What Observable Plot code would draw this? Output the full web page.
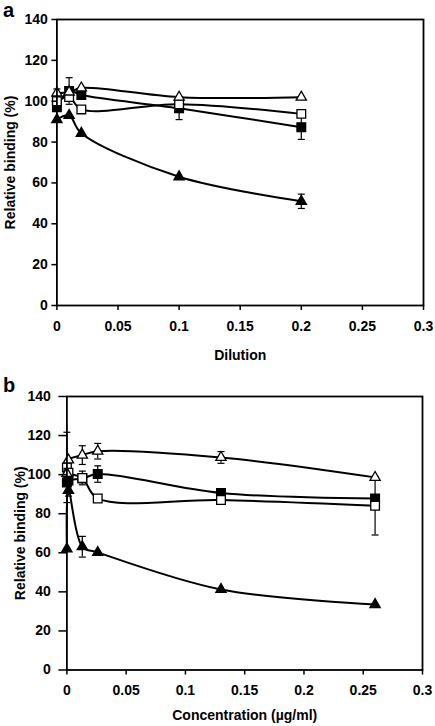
<!DOCTYPE html>
<html><head><meta charset="utf-8">
<script src="https://cdn.jsdelivr.net/npm/d3@7"></script>
<script src="https://cdn.jsdelivr.net/npm/@observablehq/plot@0.6"></script>
<style>
body{margin:0;background:#fff;width:435px;height:726px;position:relative;overflow:hidden;font-family:"Liberation Sans",Arial,sans-serif;}
.panel{position:absolute;left:0}
.tag{position:absolute;font-weight:bold;font-size:20px;line-height:1;z-index:2;color:#000}
</style></head><body>
<div id="pa" class="panel" style="top:0"></div>
<div id="pb" class="panel" style="top:365px"></div>
<div class="tag" style="left:3px;top:0px">a</div>
<div class="tag" style="left:3px;top:375px">b</div>
<script>
// ---- Panel a (Dilution) ----
const xA = [0, 0.01, 0.02, 0.1, 0.2];
const aOpenTri = [104, 104.5, 106.5, 102, 102];
const aOpenSq = [100, 102, 96, 98.5, 93.8];
const aFillSq = [97, 105, 103, 96.5, 87.3];
const aFillTri = [91, 93, 84.3, 63, 51];
const aOpenTriErr = [2, 0, 0, 0, 0];
const aOpenSqErr = [0, 0, 0, 0, 0];
const aFillSqErr = [0, 6.5, 0, 5.5, 6];
const aFillTriErr = [0, 0, 0, 0, 3.5];

// ---- Panel b (Concentration) ----
const xB = [0, 0.0013, 0.013, 0.026, 0.13, 0.26];
const bOpenTri = [100.6, 107.5, 110, 112, 108.8, 98.6];
const bOpenSq = [103.7, 101, 98.3, 87.8, 87, 84.1];
const bFillSq = [96, 97, 98, 100.3, 90.6, 87.8];
const bFillTri = [62, 92, 63.1, 60.2, 41.2, 33.5];
const bOpenTriErr = [0, 0, 4.8, 4, 3, 0];
const bOpenSqErr = [18, 0, 3.5, 0, 0, 15];
const bFillSqErr = [0, 0, 0, 4.2, 1.5, 0];
const bFillTriErr = [0, 3, 5.3, 0, 0, 0];

const xTicks = [0, 0.05, 0.1, 0.15, 0.2, 0.25, 0.3];
const yTicks = [0, 20, 40, 60, 80, 100, 120, 140];
const yLabel = "Relative binding (%)";

const capSymbol = {draw(ctx) { ctx.moveTo(-3.5, 0); ctx.lineTo(3.5, 0); }};

function rows(xs, ys, errs, name) {
  return xs.map((x, i) => ({x, y: ys[i], e: errs[i], s: name}));
}

function panel(xs, sets, opt) {
  const all = sets.flatMap(d => d.rows);
  const errRows = all.filter(d => d.e > 0);
  const caps = errRows.flatMap(d => [{x: d.x, y: d.y - d.e}, {x: d.x, y: d.y + d.e}]);
  const marks = [
    Plot.line(all, {x: "x", y: "y", z: "s", curve: "catmull-rom", stroke: "black", strokeWidth: 2}),
    Plot.ruleX(errRows, {x: "x", y1: d => d.y - d.e, y2: d => d.y + d.e, stroke: "black", strokeWidth: 1.2}),
    Plot.dot(caps, {x: "x", y: "y", symbol: capSymbol, r: 3, stroke: "black", strokeWidth: 1.2, fill: "none"}),
  ];
  for (const st of sets) {
    marks.push(Plot.dot(st.rows, {x: "x", y: "y", symbol: st.symbol, r: st.symbol === "square" ? 4.9 : 3.8,
      fill: st.fill, stroke: "black", strokeWidth: 1.3}));
  }
  marks.push(Plot.frame({stroke: "black", strokeWidth: 1.8}));
  marks.push(Plot.axisX({ticks: xTicks, tickFormat: d => String(+d.toFixed(2)), tickSize: 5, tickPadding: opt.xPad,
    strokeWidth: 1.5, label: opt.xLabel, labelAnchor: "center", labelArrow: "none", labelOffset: opt.xLabelOffset}));
  marks.push(Plot.axisY({ticks: yTicks, tickSize: opt.yTick, tickPadding: opt.yPad, strokeWidth: 1.5,
    label: yLabel, labelAnchor: "center", labelArrow: "none", labelOffset: opt.yLabelOffset}));
  return Plot.plot({
    width: 435, height: opt.height,
    marginLeft: opt.ml, marginRight: opt.mr, marginTop: opt.mt, marginBottom: opt.mb,
    x: {domain: [0, 0.3]}, y: {domain: [0, 140]},
    style: {fontFamily: "'Liberation Sans', Arial, sans-serif", fontSize: "14px", fontWeight: "bold", color: "black", background: "white", overflow: "visible"},
    marks
  });
}

const setsA = [
  {rows: rows(xA, aFillTri, aFillTriErr, "ft"), symbol: "triangle", fill: "black"},
  {rows: rows(xA, aFillSq, aFillSqErr, "fs"), symbol: "square", fill: "black"},
  {rows: rows(xA, aOpenSq, aOpenSqErr, "os"), symbol: "square", fill: "white"},
  {rows: rows(xA, aOpenTri, aOpenTriErr, "ot"), symbol: "triangle", fill: "white"},
];
const setsB = [
  {rows: rows(xB, bFillTri, bFillTriErr, "ft"), symbol: "triangle", fill: "black"},
  {rows: rows(xB, bFillSq, bFillSqErr, "fs"), symbol: "square", fill: "black"},
  {rows: rows(xB, bOpenSq, bOpenSqErr, "os"), symbol: "square", fill: "white"},
  {rows: rows(xB, bOpenTri, bOpenTriErr, "ot"), symbol: "triangle", fill: "white"},
];

document.getElementById("pa").append(panel(xA, setsA, {
  height: 365, ml: 56.4, mr: 12, mt: 19, mb: 60, xPad: 11, yTick: 5, yPad: 4,
  xLabel: "Dilution", xLabelOffset: 54, yLabelOffset: 52
}));
document.getElementById("pb").append(panel(xB, setsB, {
  height: 361, ml: 66.4, mr: 13, mt: 31, mb: 56.5, xPad: 10, yTick: 8, yPad: 8,
  xLabel: "Concentration (µg/ml)", xLabelOffset: 50, yLabelOffset: 52
}));
</script></body></html>
